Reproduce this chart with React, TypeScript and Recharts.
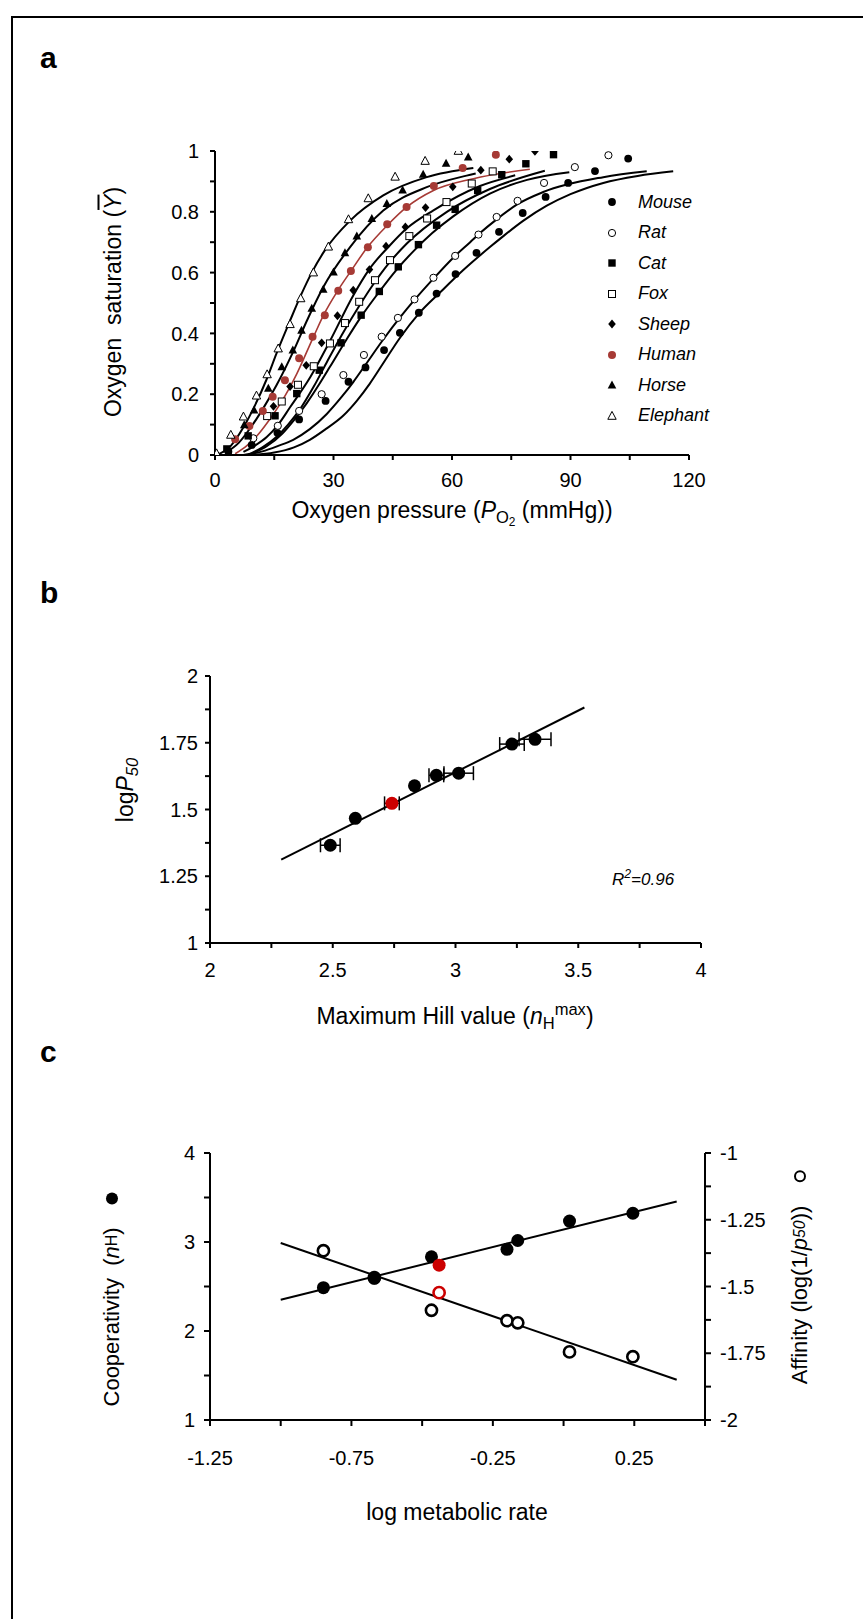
import React from 'react';
import { ComposedChart, Line, Scatter, XAxis, YAxis, ErrorBar } from 'recharts';

const FONT = "'Liberation Sans', Arial, Helvetica, sans-serif";

// ---------------- Panel a : oxygen saturation curves ----------------
const mousePts = [
  { x: 3.4, y: 0.011 }, { x: 9.3, y: 0.033 }, { x: 15.8, y: 0.073 }, { x: 21.3, y: 0.117 }, { x: 28, y: 0.178 },
  { x: 33.8, y: 0.241 }, { x: 38.1, y: 0.288 }, { x: 42.8, y: 0.345 }, { x: 46.8, y: 0.402 }, { x: 51.6, y: 0.468 },
  { x: 56.1, y: 0.531 }, { x: 60.9, y: 0.595 }, { x: 66.2, y: 0.665 }, { x: 71.9, y: 0.734 }, { x: 77.9, y: 0.796 },
  { x: 83.7, y: 0.849 }, { x: 89.4, y: 0.895 }, { x: 96.2, y: 0.934 }, { x: 104.6, y: 0.975 },
];
const ratPts = [
  { x: 9.7, y: 0.055 }, { x: 15.9, y: 0.096 }, { x: 21.3, y: 0.145 }, { x: 27, y: 0.2 }, { x: 32.5, y: 0.263 },
  { x: 37.7, y: 0.329 }, { x: 42.2, y: 0.389 }, { x: 46.3, y: 0.451 }, { x: 50.5, y: 0.512 }, { x: 55.3, y: 0.583 },
  { x: 60.8, y: 0.655 }, { x: 66.7, y: 0.725 }, { x: 71.3, y: 0.783 }, { x: 76.6, y: 0.836 }, { x: 83.3, y: 0.895 },
  { x: 91.1, y: 0.947 }, { x: 99.6, y: 0.986 },
];
const catPts = [
  { x: 3, y: 0.02 }, { x: 8.4, y: 0.063 }, { x: 15.2, y: 0.129 }, { x: 20.7, y: 0.202 }, { x: 26.4, y: 0.279 },
  { x: 31.9, y: 0.369 }, { x: 37, y: 0.46 }, { x: 41.6, y: 0.538 }, { x: 46.4, y: 0.619 }, { x: 51.5, y: 0.692 },
  { x: 56.1, y: 0.756 }, { x: 60.8, y: 0.808 }, { x: 66.5, y: 0.87 }, { x: 72.6, y: 0.922 }, { x: 78.7, y: 0.958 },
  { x: 85.7, y: 0.988 },
];
const foxPts = [
  { x: 13.2, y: 0.128 }, { x: 16.9, y: 0.176 }, { x: 21, y: 0.231 }, { x: 25, y: 0.292 }, { x: 29.1, y: 0.367 },
  { x: 32.9, y: 0.434 }, { x: 36.5, y: 0.504 }, { x: 40.5, y: 0.575 }, { x: 44.3, y: 0.641 }, { x: 49.2, y: 0.72 },
  { x: 53.7, y: 0.778 }, { x: 58.6, y: 0.832 }, { x: 65, y: 0.893 }, { x: 70.3, y: 0.933 },
];
const sheepPts = [
  { x: 14.8, y: 0.16 }, { x: 19, y: 0.225 }, { x: 23.1, y: 0.295 }, { x: 27, y: 0.369 }, { x: 31, y: 0.458 },
  { x: 35, y: 0.542 }, { x: 39.1, y: 0.61 }, { x: 43.3, y: 0.687 }, { x: 48.2, y: 0.75 }, { x: 53.3, y: 0.814 },
  { x: 60.2, y: 0.882 }, { x: 67.3, y: 0.937 }, { x: 74.5, y: 0.973 }, { x: 81, y: 0.999 },
];
const humanPts = [
  { x: 5.1, y: 0.052 }, { x: 8.7, y: 0.095 }, { x: 12.1, y: 0.145 }, { x: 14.6, y: 0.192 }, { x: 17.7, y: 0.246 },
  { x: 21.3, y: 0.318 }, { x: 24.7, y: 0.389 }, { x: 27.8, y: 0.46 }, { x: 31.2, y: 0.54 }, { x: 34.4, y: 0.605 },
  { x: 38.7, y: 0.683 }, { x: 43.6, y: 0.759 }, { x: 48.5, y: 0.816 }, { x: 55.4, y: 0.885 }, { x: 62.7, y: 0.944 },
  { x: 71.1, y: 0.988 },
];
const horsePts = [
  { x: 7.4, y: 0.099 }, { x: 9.9, y: 0.148 }, { x: 13.5, y: 0.219 }, { x: 16.9, y: 0.29 }, { x: 19.7, y: 0.345 },
  { x: 21.9, y: 0.41 }, { x: 24.5, y: 0.482 }, { x: 27.4, y: 0.545 }, { x: 30, y: 0.602 }, { x: 32.9, y: 0.665 },
  { x: 35.9, y: 0.72 }, { x: 39.7, y: 0.778 }, { x: 43.5, y: 0.827 }, { x: 47.5, y: 0.871 }, { x: 52.7, y: 0.923 },
  { x: 58.5, y: 0.959 }, { x: 64.1, y: 0.98 },
];
const elephantPts = [
  { x: 0.4, y: 0.005 }, { x: 4, y: 0.066 }, { x: 7.2, y: 0.126 }, { x: 10.5, y: 0.195 }, { x: 13.2, y: 0.265 },
  { x: 16, y: 0.35 }, { x: 19, y: 0.43 }, { x: 21.7, y: 0.515 }, { x: 24.9, y: 0.6 }, { x: 28.7, y: 0.685 },
  { x: 33.8, y: 0.775 }, { x: 38.8, y: 0.844 }, { x: 45.6, y: 0.915 }, { x: 53.2, y: 0.967 }, { x: 61.6, y: 1.0 },
];

// fitted curves
const mouseCurve = [
  { x: 9, y: 0 }, { x: 15, y: 0.008 }, { x: 20, y: 0.025 }, { x: 24, y: 0.05 }, { x: 28, y: 0.085 },
  { x: 32.5, y: 0.13 }, { x: 36, y: 0.18 }, { x: 39.2, y: 0.235 }, { x: 42.5, y: 0.3 }, { x: 46.8, y: 0.385 },
  { x: 51.6, y: 0.465 }, { x: 57, y: 0.535 }, { x: 63, y: 0.61 }, { x: 69.6, y: 0.684 }, { x: 73, y: 0.72 },
  { x: 78, y: 0.77 }, { x: 84, y: 0.82 }, { x: 90, y: 0.858 }, { x: 98.3, y: 0.895 }, { x: 107, y: 0.918 },
  { x: 116, y: 0.933 },
];
const ratCurve = [
  { x: 7.2, y: 0 }, { x: 12, y: 0.012 }, { x: 16, y: 0.03 }, { x: 19.8, y: 0.05 }, { x: 24, y: 0.085 },
  { x: 28.3, y: 0.135 }, { x: 32, y: 0.19 }, { x: 35, y: 0.24 }, { x: 38, y: 0.295 }, { x: 42.6, y: 0.38 },
  { x: 47, y: 0.455 }, { x: 50.5, y: 0.51 }, { x: 55.3, y: 0.58 }, { x: 60, y: 0.645 }, { x: 64.6, y: 0.7 },
  { x: 67.1, y: 0.73 }, { x: 71.3, y: 0.775 }, { x: 76.6, y: 0.825 }, { x: 83.1, y: 0.865 }, { x: 98.3, y: 0.914 },
  { x: 109.3, y: 0.933 },
];
const catCurve = [
  { x: 9.5, y: 0.005 }, { x: 13, y: 0.028 }, { x: 17, y: 0.07 }, { x: 20, y: 0.115 }, { x: 23.2, y: 0.17 },
  { x: 26.5, y: 0.235 }, { x: 29.1, y: 0.29 }, { x: 33.3, y: 0.38 }, { x: 37, y: 0.455 }, { x: 40.9, y: 0.525 },
  { x: 46, y: 0.61 }, { x: 50.2, y: 0.67 }, { x: 55, y: 0.73 }, { x: 60.3, y: 0.785 }, { x: 69.6, y: 0.86 },
  { x: 79, y: 0.905 }, { x: 89.7, y: 0.93 },
];
const foxCurve = [
  { x: 8.9, y: 0.004 }, { x: 12, y: 0.025 }, { x: 15.6, y: 0.06 }, { x: 18.5, y: 0.1 }, { x: 21.5, y: 0.15 },
  { x: 25, y: 0.225 }, { x: 28.5, y: 0.31 }, { x: 32.1, y: 0.395 }, { x: 36.5, y: 0.49 }, { x: 40, y: 0.56 },
  { x: 44.3, y: 0.635 }, { x: 48.5, y: 0.695 }, { x: 58.7, y: 0.8 }, { x: 69.6, y: 0.875 }, { x: 83.5, y: 0.935 },
];
const sheepCurve = [
  { x: 7.2, y: 0.01 }, { x: 10, y: 0.03 }, { x: 13.1, y: 0.059 }, { x: 16, y: 0.1 }, { x: 19, y: 0.157 },
  { x: 24.1, y: 0.256 }, { x: 29.1, y: 0.375 }, { x: 35, y: 0.525 }, { x: 39, y: 0.61 }, { x: 44.3, y: 0.69 },
  { x: 48.5, y: 0.745 }, { x: 55.3, y: 0.805 }, { x: 67.1, y: 0.885 }, { x: 76, y: 0.92 },
];
const humanCurve = [
  { x: 5.1, y: 0.004 }, { x: 8, y: 0.03 }, { x: 11.4, y: 0.075 }, { x: 14, y: 0.12 }, { x: 16.5, y: 0.168 },
  { x: 20.7, y: 0.267 }, { x: 24.9, y: 0.388 }, { x: 27.8, y: 0.468 }, { x: 30.8, y: 0.535 }, { x: 34.4, y: 0.605 },
  { x: 38.4, y: 0.68 }, { x: 43.6, y: 0.755 }, { x: 48.5, y: 0.815 }, { x: 55.3, y: 0.87 }, { x: 65.4, y: 0.909 },
  { x: 79.7, y: 0.94 },
];
const horseCurve = [
  { x: 3, y: 0.01 }, { x: 6, y: 0.04 }, { x: 9.7, y: 0.103 }, { x: 12.5, y: 0.16 }, { x: 15.6, y: 0.23 },
  { x: 19.8, y: 0.34 }, { x: 23.2, y: 0.44 }, { x: 27.4, y: 0.552 }, { x: 34.2, y: 0.684 }, { x: 42.6, y: 0.804 },
  { x: 53.6, y: 0.881 }, { x: 63.7, y: 0.919 }, { x: 66, y: 0.926 },
];
const elephantCurve = [
  { x: 0.5, y: 0 }, { x: 4, y: 0.03 }, { x: 7.2, y: 0.091 }, { x: 10, y: 0.16 }, { x: 13.1, y: 0.25 },
  { x: 15.6, y: 0.335 }, { x: 19, y: 0.442 }, { x: 21.9, y: 0.53 }, { x: 24.5, y: 0.6 }, { x: 27.8, y: 0.673 },
  { x: 34.2, y: 0.771 }, { x: 42.6, y: 0.854 }, { x: 53.6, y: 0.914 }, { x: 65.4, y: 0.944 },
];

const aXTicks = [0, 15, 30, 45, 60, 75, 90, 105, 120];
const aXLabels = ['0', '', '30', '', '60', '', '90', '', '120'];
const aYTicks = [0, 0.1, 0.2, 0.3, 0.4, 0.5, 0.6, 0.7, 0.8, 0.9, 1];
const aYLabels = ['0', '', '0.2', '', '0.4', '', '0.6', '', '0.8', '', '1'];
const speciesNames = ['Mouse', 'Rat', 'Cat', 'Fox', 'Sheep', 'Human', 'Horse', 'Elephant'];

// ---------------- Panel b : logP50 vs nHmax ----------------
const nHmax = [2.49, 2.592, 2.833, 2.922, 3.013, 3.23, 3.324];
const logP50 = [1.366, 1.467, 1.589, 1.628, 1.636, 1.745, 1.763];
const nHerr = [0.04, 0, 0, 0.03, 0.06, 0.05, 0.065];
const humanNH = 2.741;
const humanLogP50 = 1.523;
const humanNHerr = 0.03;
const fitBx = [2.29, 3.525];
const fitBy = [1.312, 1.882];
const bXTicks = [2, 2.25, 2.5, 2.75, 3, 3.25, 3.5, 3.75, 4];
const bXLabels = ['2', '', '2.5', '', '3', '', '3.5', '', '4'];
const bYTicks = [1, 1.125, 1.25, 1.375, 1.5, 1.625, 1.75, 1.875, 2];
const bYLabels = ['1', '', '1.25', '', '1.5', '', '1.75', '', '2'];

// ---------------- Panel c : cooperativity & affinity vs metabolic rate ----------------
const logMR = [-0.849, -0.669, -0.467, -0.2, -0.162, 0.021, 0.245];
const coopNH = [2.487, 2.592, 2.833, 2.918, 3.017, 3.235, 3.323];
const affinity = [-1.366, -1.467, -1.589, -1.628, -1.636, -1.745, -1.763];
const humanMR = -0.44;
const humanCoop = 2.74;
const humanAff = -1.523;
const fitCx = [-1, 0.4];
const fitCoop = [2.351, 3.456];
const fitAff = [-1.337, -1.849];
const cXTicks = [-1.25, -1, -0.75, -0.5, -0.25, 0, 0.25, 0.5];
const cXLabels = ['-1.25', '', '-0.75', '', '-0.25', '', '0.25', ''];
const cLTicks = [1, 1.5, 2, 2.5, 3, 3.5, 4];
const cLLabels = ['1', '', '2', '', '3', '', '4'];
const cRTicks = [-2, -1.875, -1.75, -1.625, -1.5, -1.375, -1.25, -1.125, -1];
const cRLabels = ['-2', '', '-1.75', '', '-1.5', '', '-1.25', '', '-1'];

// ---------------- table building ----------------
const ptsB = nHmax.map((x, i) => ({ x, y: logP50[i], ex: nHerr[i] }));
const ptsBHuman = [{ x: humanNH, y: humanLogP50, ex: humanNHerr }];
const lineB = fitBx.map((x, i) => ({ x, y: fitBy[i] }));
const coopPts = logMR.map((x, i) => ({ x, y: coopNH[i] }));
const affPts = logMR.map((x, i) => ({ x, y: affinity[i] }));
const coopHuman = [{ x: humanMR, y: humanCoop }];
const affHuman = [{ x: humanMR, y: humanAff }];
const coopLine = fitCx.map((x, i) => ({ x, y: fitCoop[i] }));
const affLine = fitCx.map((x, i) => ({ x, y: fitAff[i] }));

const HUMAN_A = '#a63a35';
const RED = '#cc0000';

// ---------------- marker shapes ----------------
const mk = {
  fcircle: (p: any) => <circle cx={p.cx} cy={p.cy} r={3.9} fill="#000" />,
  ocircle: (p: any) => <circle cx={p.cx} cy={p.cy} r={3.6} fill="#fff" stroke="#000" strokeWidth={1} />,
  fsquare: (p: any) => <rect x={p.cx - 3.7} y={p.cy - 3.7} width={7.4} height={7.4} fill="#000" />,
  osquare: (p: any) => <rect x={p.cx - 3.5} y={p.cy - 3.5} width={7} height={7} fill="#fff" stroke="#000" strokeWidth={1} />,
  diamond: (p: any) => (
    <polygon points={`${p.cx},${p.cy - 4.4} ${p.cx + 3.8},${p.cy} ${p.cx},${p.cy + 4.4} ${p.cx - 3.8},${p.cy}`} fill="#000" />
  ),
  hcircle: (p: any) => <circle cx={p.cx} cy={p.cy} r={4} fill={HUMAN_A} />,
  ftri: (p: any) => (
    <polygon points={`${p.cx},${p.cy - 4.6} ${p.cx + 4.3},${p.cy + 3.4} ${p.cx - 4.3},${p.cy + 3.4}`} fill="#000" />
  ),
  otri: (p: any) => (
    <polygon points={`${p.cx},${p.cy - 4.6} ${p.cx + 4.2},${p.cy + 3.3} ${p.cx - 4.2},${p.cy + 3.3}`} fill="#fff" stroke="#000" strokeWidth={1} />
  ),
};
const legendKeys = ['fcircle', 'ocircle', 'fsquare', 'osquare', 'diamond', 'hcircle', 'ftri', 'otri'];

const bigDot = (color: string) => (p: any) => <circle cx={p.cx} cy={p.cy} r={6.5} fill={color} />;
const bigRing = (color: string) => (p: any) => (
  <circle cx={p.cx} cy={p.cy} r={5.6} fill="#fff" stroke={color} strokeWidth={2.6} />
);

const axisLine = { stroke: '#000', strokeWidth: 2 };
const tickLine = { stroke: '#000', strokeWidth: 2 };
const tickStyle = { fill: '#000', fontSize: 20, fontFamily: FONT };

const abs = (left: number, top: number, extra: any = {}) => ({ position: 'absolute' as const, left, top, ...extra });

const Title = ({ x, y, rotate, size = 23, children }: any) => (
  <div
    style={{
      position: 'absolute', left: x, top: y, whiteSpace: 'nowrap', fontSize: size, fontFamily: FONT, color: '#000',
      transform: `translate(-50%, -50%)${rotate ? ' rotate(-90deg)' : ''}`, lineHeight: 1,
    }}
  >
    {children}
  </div>
);

const subS = { fontSize: '0.72em', verticalAlign: '-0.3em' } as const;
const supS = { fontSize: '0.72em', verticalAlign: '0.55em' } as const;
const letter = { fontSize: 30, fontWeight: 'bold', fontFamily: FONT, lineHeight: 1 };

function PanelA() {
  const curves = [mouseCurve, ratCurve, catCurve, foxCurve, sheepCurve, humanCurve, horseCurve, elephantCurve];
  const pts = [mousePts, ratPts, catPts, foxPts, sheepPts, humanPts, horsePts, elephantPts];
  return (
    <div style={abs(0, 0)}>
      <ComposedChart width={863} height={560} margin={{ top: 151, right: 174, bottom: 65, left: 0 }}>
        <XAxis
          type="number" dataKey="x" domain={[0, 120]} ticks={aXTicks} interval={0}
          tickFormatter={(v: number) => aXLabels[aXTicks.indexOf(v)] ?? ''}
          axisLine={axisLine} tickLine={tickLine} tick={tickStyle} tickSize={5} tickMargin={13} height={40}
          allowDataOverflow
        />
        <YAxis
          type="number" dataKey="y" domain={[0, 1]} ticks={aYTicks} interval={0}
          tickFormatter={(v: number) => aYLabels[aYTicks.findIndex((t) => Math.abs(t - v) < 1e-6)] ?? ''}
          axisLine={axisLine} tickLine={tickLine} tick={tickStyle} tickSize={5} tickMargin={11} width={215}
          allowDataOverflow
        />
        {curves.map((c, i) => (
          <Line
            key={'c' + i} data={c} dataKey="y" type="monotone" dot={false} activeDot={false}
            stroke={i === 5 ? HUMAN_A : '#000'} strokeWidth={i === 5 ? 1.6 : 2} isAnimationActive={false}
          />
        ))}
        {pts.map((d, i) => (
          <Scatter key={'s' + i} data={d} dataKey="y" shape={(mk as any)[legendKeys[i]]} isAnimationActive={false} />
        ))}
      </ComposedChart>
    </div>
  );
}

function Legend() {
  return (
    <div style={abs(600, 187)}>
      {speciesNames.map((n, i) => {
        const Shape = (mk as any)[legendKeys[i]];
        return (
          <div key={n} style={{ display: 'flex', alignItems: 'center', height: 30.5 }}>
            <svg width={24} height={16} style={{ display: 'block' }}>
              {Shape({ cx: 12, cy: 8 })}
            </svg>
            <span style={{ marginLeft: 14, fontStyle: 'italic', fontSize: 18, fontFamily: FONT }}>{n}</span>
          </div>
        );
      })}
    </div>
  );
}

function PanelB() {
  return (
    <div style={abs(0, 560)}>
      <ComposedChart width={863} height={480} margin={{ top: 116, right: 162, bottom: 57, left: 0 }}>
        <XAxis
          type="number" dataKey="x" domain={[2, 4]} ticks={bXTicks} interval={0}
          tickFormatter={(v: number) => bXLabels[bXTicks.indexOf(v)] ?? ''}
          axisLine={axisLine} tickLine={tickLine} tick={tickStyle} tickSize={5} tickMargin={15} height={40}
        />
        <YAxis
          type="number" dataKey="y" domain={[1, 2]} ticks={bYTicks} interval={0}
          tickFormatter={(v: number) => bYLabels[bYTicks.indexOf(v)] ?? ''}
          axisLine={axisLine} tickLine={tickLine} tick={tickStyle} tickSize={5} tickMargin={7} width={210}
        />
        <Line data={lineB} dataKey="y" type="linear" dot={false} activeDot={false} stroke="#000" strokeWidth={2} isAnimationActive={false} />
        <Scatter data={ptsB} dataKey="y" shape={bigDot('#000')} isAnimationActive={false}>
          <ErrorBar dataKey="ex" direction="x" width={7} stroke="#000" strokeWidth={1.5} />
        </Scatter>
        <Scatter data={ptsBHuman} dataKey="y" shape={bigDot(RED)} isAnimationActive={false}>
          <ErrorBar dataKey="ex" direction="x" width={7} stroke="#000" strokeWidth={1.5} />
        </Scatter>
      </ComposedChart>
    </div>
  );
}

function PanelC() {
  return (
    <div style={abs(0, 1040)}>
      <ComposedChart width={863} height={500} margin={{ top: 113, right: 0, bottom: 80, left: 0 }}>
        <XAxis
          type="number" dataKey="x" domain={[-1.25, 0.5]} ticks={cXTicks} interval={0}
          tickFormatter={(v: number) => cXLabels[cXTicks.indexOf(v)] ?? ''}
          axisLine={axisLine} tickLine={tickLine} tick={tickStyle} tickSize={6} tickMargin={25} height={40}
        />
        <YAxis
          yAxisId="l" type="number" dataKey="y" domain={[1, 4]} ticks={cLTicks} interval={0}
          tickFormatter={(v: number) => cLLabels[cLTicks.indexOf(v)] ?? ''}
          axisLine={axisLine} tickLine={tickLine} tick={tickStyle} tickSize={6} tickMargin={9} width={210}
        />
        <YAxis
          yAxisId="r" orientation="right" type="number" dataKey="y" domain={[-2, -1]} ticks={cRTicks} interval={0}
          tickFormatter={(v: number) => cRLabels[cRTicks.indexOf(v)] ?? ''}
          axisLine={axisLine} tickLine={tickLine} tick={tickStyle} tickSize={6} tickMargin={9} width={158}
        />
        <Line yAxisId="l" data={coopLine} dataKey="y" type="linear" dot={false} activeDot={false} stroke="#000" strokeWidth={2} isAnimationActive={false} />
        <Line yAxisId="r" data={affLine} dataKey="y" type="linear" dot={false} activeDot={false} stroke="#000" strokeWidth={2} isAnimationActive={false} />
        <Scatter yAxisId="r" data={affPts} dataKey="y" shape={bigRing('#000')} isAnimationActive={false} />
        <Scatter yAxisId="r" data={affHuman} dataKey="y" shape={bigRing(RED)} isAnimationActive={false} />
        <Scatter yAxisId="l" data={coopPts} dataKey="y" shape={bigDot('#000')} isAnimationActive={false} />
        <Scatter yAxisId="l" data={coopHuman} dataKey="y" shape={bigDot(RED)} isAnimationActive={false} />
      </ComposedChart>
    </div>
  );
}

export default function App() {
  return (
    <div style={{ position: 'absolute', left: 0, top: 0, width: 863, height: 1619, background: '#fff', fontFamily: FONT, overflow: 'hidden' }}>
      {/* frame */}
      <div style={abs(11, 16, { width: 852, height: 1.5, background: '#000' })} />
      <div style={abs(11, 16, { width: 1.5, height: 1603, background: '#000' })} />

      {/* panel letters */}
      <div style={abs(40, 43, letter)}>a</div>
      <div style={abs(40, 578, letter)}>b</div>
      <div style={abs(40, 1037, letter)}>c</div>

      <PanelA />
      <Legend />
      <Title x={113} y={302} rotate>
        Oxygen&nbsp; saturation (<i style={{ textDecoration: 'overline' }}>Y</i>)
      </Title>
      <Title x={452} y={514}>
        Oxygen pressure (<i>P</i><span style={subS}>O<span style={subS}>2</span></span> (mmHg))
      </Title>

      <PanelB />
      <Title x={128} y={790} rotate>
        log<i>P</i><span style={subS}><i>50</i></span>
      </Title>
      <div style={abs(612, 868, { fontSize: 17, fontStyle: 'italic', fontFamily: FONT, whiteSpace: 'nowrap', lineHeight: 1 })}>
        R<span style={supS}>2</span>=0.96
      </div>
      <Title x={455} y={1017}>
        Maximum Hill value (<i>n</i><span style={subS}>H</span><span style={supS}>max</span>)
      </Title>

      <PanelC />
      <Title x={112} y={1299} rotate size={22}>
        <span style={{ display: 'inline-flex', alignItems: 'center' }}>
          Cooperativity&nbsp; (<i>n</i><span style={subS}>H</span>)
          <svg width={14} height={14} style={{ marginLeft: 22, display: 'block' }}>
            <circle cx={7} cy={7} r={6} fill="#000" />
          </svg>
        </span>
      </Title>
      <Title x={800} y={1277} rotate size={22}>
        <span style={{ display: 'inline-flex', alignItems: 'center' }}>
          Affinity (log(1/<i>p</i><span style={subS}><i>50</i></span>))
          <svg width={14} height={14} style={{ marginLeft: 22, display: 'block' }}>
            <circle cx={7} cy={7} r={5} fill="#fff" stroke="#000" strokeWidth={2} />
          </svg>
        </span>
      </Title>
      <Title x={457} y={1512}>
        log metabolic rate
      </Title>
    </div>
  );
}
